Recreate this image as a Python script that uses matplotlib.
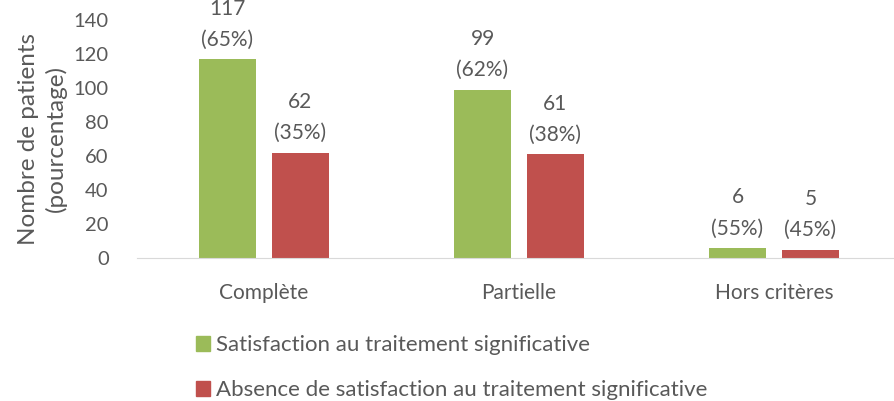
import numpy as np
import matplotlib.pyplot as plt
from matplotlib.patches import Patch

categories = ['Complète', 'Partielle', 'Hors critères']
satisfied = [117, 99, 6]
satisfied_pct = [65, 62, 55]
not_satisfied = [62, 61, 5]
not_satisfied_pct = [35, 38, 45]
series_names = ['Satisfaction au traitement significative',
                'Absence de satisfaction au traitement significative']

green = '#9BBB59'
red = '#C0504D'
txt = '#595959'
plt.rcParams['font.family'] = ['Lato', 'DejaVu Sans']

fig = plt.figure(figsize=(8.94, 4.01), dpi=100)
ax = fig.add_axes([136.5 / 894, 1 - 258 / 401, 765 / 894, 238 / 401])

x = np.arange(len(categories))
w = 0.2235
off = 0.143
ax.bar(x - off, satisfied, w, color=green)
ax.bar(x + off, not_satisfied, w, color=red)

for xi, v, p in zip(x - off, satisfied, satisfied_pct):
    ax.text(xi, v + 5.5, f'{v}\n({p}%)', ha='center', va='bottom', fontsize=15,
            color=txt, linespacing=1.7)
for xi, v, p in zip(x + off, not_satisfied, not_satisfied_pct):
    ax.text(xi, v + 5.5, f'{v}\n({p}%)', ha='center', va='bottom', fontsize=15,
            color=txt, linespacing=1.7)

ax.set_xlim(-0.5, 2.5)
ax.set_ylim(0, 140)
ax.set_yticks(range(0, 141, 20))
ax.set_xticks(x, categories)
ax.tick_params(axis='y', length=0, pad=20, labelsize=14.5, labelcolor=txt)
ax.tick_params(axis='x', length=0, pad=18, labelsize=15, labelcolor=txt)
for s in ['top', 'right', 'left']:
    ax.spines[s].set_visible(False)
ax.spines['bottom'].set_color('#D9D9D9')
ax.set_ylabel('Nombre de patients\n(pourcentage)', fontsize=17.5, color=txt,
              linespacing=1.3)
ax.yaxis.set_label_coords(-0.091, 0.5)

handles = [Patch(color=green), Patch(color=red)]
fig.legend(handles, series_names, loc='upper left', bbox_to_anchor=(187 / 894, 1 - 326 / 401),
           frameon=False, fontsize=16, labelcolor=txt, handlelength=0.65, handleheight=0.65,
           handletextpad=0.25, labelspacing=1.15, borderaxespad=0)

fig.savefig('out.png', dpi=100)
